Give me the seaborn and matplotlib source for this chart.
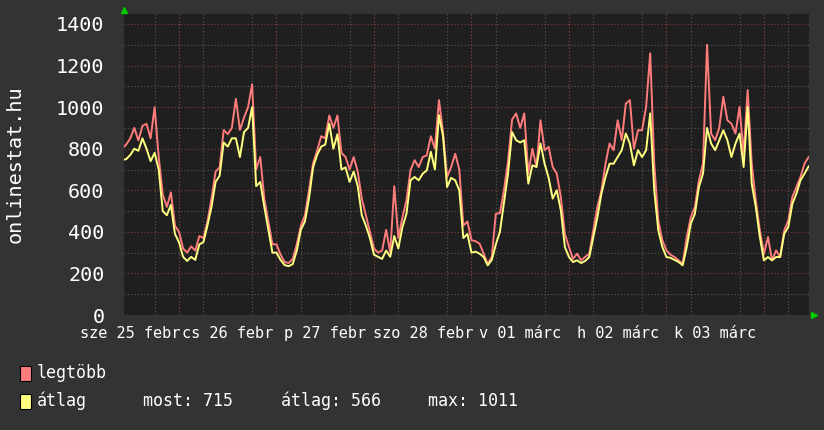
import pandas as pd
import matplotlib
matplotlib.use('Agg')
import matplotlib.pyplot as plt
from matplotlib.ticker import MultipleLocator
from matplotlib.patches import Rectangle
import seaborn as sns

# orak 2015. feb 25 00:00-tol, oranként
ora_kezdet = 10

legtobb = [800, 820, 850, 900, 840, 910, 920, 850, 1000, 760, 580, 520,
           590, 430, 400, 320, 300, 330, 310, 380, 370, 450, 560, 690,
           710, 890, 870, 900, 1040, 890, 950, 1000, 1110, 700, 760, 560,
           450, 340, 340, 290, 255, 250, 270, 340, 430, 480, 600, 730,
           790, 860, 850, 960, 900, 960, 780, 760, 700, 760, 690, 560,
           480, 400, 320, 300, 310, 410, 300, 620, 370, 470, 552, 697,
           745, 712, 760, 768, 860, 800, 1034, 880, 664, 712, 776, 700,
           430, 450, 360, 355, 343, 295, 247, 280, 487, 490, 600, 740,
           940, 970, 900, 970, 680, 800, 712, 937, 793, 809, 712, 680,
           568, 391, 327, 270, 295, 263, 280, 295, 407, 520, 600, 728,
           825, 793, 937, 841, 1017, 1034, 800, 889, 889, 1001, 1259, 728,
           455, 359, 311, 290, 279, 263, 247, 375, 471, 520, 648, 728,
           1300, 873, 841, 900, 1050, 937, 921, 873, 1001, 776, 1082, 728,
           552, 407, 295, 375, 263, 311, 279, 407, 455, 568, 616, 664,
           728, 760]

atlag = [745, 750, 770, 800, 790, 850, 800, 740, 780, 700, 500, 480,
         530, 390, 350, 280, 260, 280, 265, 340, 350, 430, 520, 640,
         670, 830, 810, 850, 850, 760, 880, 900, 1000, 620, 640, 520,
         410, 300, 300, 265, 240, 235, 245, 310, 410, 450, 560, 710,
         770, 810, 820, 920, 800, 870, 700, 710, 640, 690, 620, 480,
         430, 370, 290, 280, 270, 310, 280, 380, 320, 423, 487, 648,
         664, 648, 680, 696, 785, 700, 961, 860, 616, 660, 648, 600,
         370, 390, 300, 305, 295, 279, 239, 265, 340, 400, 540, 680,
         880, 841, 830, 841, 632, 720, 712, 825, 728, 660, 560, 600,
         504, 327, 279, 255, 263, 250, 260, 279, 375, 470, 584, 664,
         728, 728, 760, 793, 873, 825, 720, 793, 760, 793, 970, 600,
         407, 327, 279, 275, 265, 255, 239, 327, 439, 487, 616, 680,
         900, 825, 793, 840, 889, 841, 760, 825, 873, 712, 1001, 632,
         520, 375, 263, 279, 263, 279, 279, 391, 423, 535, 584, 648,
         680, 715]

nap_cimkek = ["sze 25 febr", "cs 26 febr", "p 27 febr", "szo 28 febr",
              "v 01 márc", "h 02 márc", "k 03 márc"]
most = 715
atlag_ertek = 566
max_ertek = 1011

df = pd.DataFrame({'ora': range(ora_kezdet, ora_kezdet + len(legtobb)),
                   'legtobb': legtobb, 'atlag': atlag})

plt.rcParams['font.family'] = ['DejaVu Sans Mono']
plt.rcParams['font.size'] = 14.5

hatter = '#333333'
piros = '#ff7c7c'
sarga = '#ffff80'

fig = plt.figure(figsize=(8.24, 4.3), dpi=100)
fig.patch.set_facecolor(hatter)
ax = fig.add_axes([0.1505, 0.2674, 0.8313, 0.700])
ax.set_facecolor('#1f1f1f')

sns.lineplot(data=df, x='ora', y='legtobb', color=piros, lw=1.4,
             ax=ax, zorder=3, legend=False)
sns.lineplot(data=df, x='ora', y='atlag', color=sarga, lw=1.4,
             ax=ax, zorder=4, legend=False)

ax.set_xlim(10.46, 179.1)
ax.set_ylim(0, 1448)

# racs
ax.yaxis.set_major_locator(MultipleLocator(200))
ax.yaxis.set_minor_locator(MultipleLocator(100))
ax.xaxis.set_minor_locator(MultipleLocator(6))
ax.set_xticks(range(12, 180, 24), nap_cimkek)
ax.grid(False)
ax.grid(which='minor', axis='both', color='#5a5a5a', ls=(0, (1, 2)), lw=0.8, zorder=1)
ax.grid(which='major', axis='y', color='#803a3a', ls=(0, (1, 2)), lw=0.8, zorder=2)
for ejfel in range(24, 180, 24):
    ax.axvline(ejfel, color='#803a3a', ls=(0, (1, 2)), lw=0.8, zorder=2)
ax.set_axisbelow(True)

for s in ax.spines.values():
    s.set_visible(False)
ax.tick_params(which='both', length=0, colors='white')
ax.tick_params(axis='y', pad=14)
ax.tick_params(axis='x', pad=8, labelsize=11)
ax.set_xlabel('')
ax.set_ylabel('')

# zold nyilak
ax.plot([0], [1.013], marker='^', color='#00cc00', ms=5, transform=ax.transAxes, clip_on=False)
ax.plot([1.007], [0], marker='>', color='#00cc00', ms=5, transform=ax.transAxes, clip_on=False)

fig.text(15 / 824, 1 - 164 / 430, 'onlinestat.hu', rotation=90, color='white',
         ha='center', va='center')

# jelmagyarazat
fig.add_artist(Rectangle((20 / 824, 1 - 381 / 430), 11 / 824, 15 / 430,
                         facecolor=piros, edgecolor='black', lw=0.8))
fig.add_artist(Rectangle((20 / 824, 1 - 409 / 430), 11 / 824, 15 / 430,
                         facecolor=sarga, edgecolor='black', lw=0.8))
jm = dict(color='white', va='center', fontsize=12)
fig.text(37 / 824, 1 - 373 / 430, 'legtöbb', **jm)
fig.text(37 / 824, 1 - 401 / 430, 'átlag', **jm)
fig.text(143 / 824, 1 - 401 / 430, f'most: {most}', **jm)
fig.text(281 / 824, 1 - 401 / 430, f'átlag: {atlag_ertek}', **jm)
fig.text(428 / 824, 1 - 401 / 430, f'max: {max_ertek}', **jm)

fig.savefig('out.png', dpi=100, facecolor=hatter)
